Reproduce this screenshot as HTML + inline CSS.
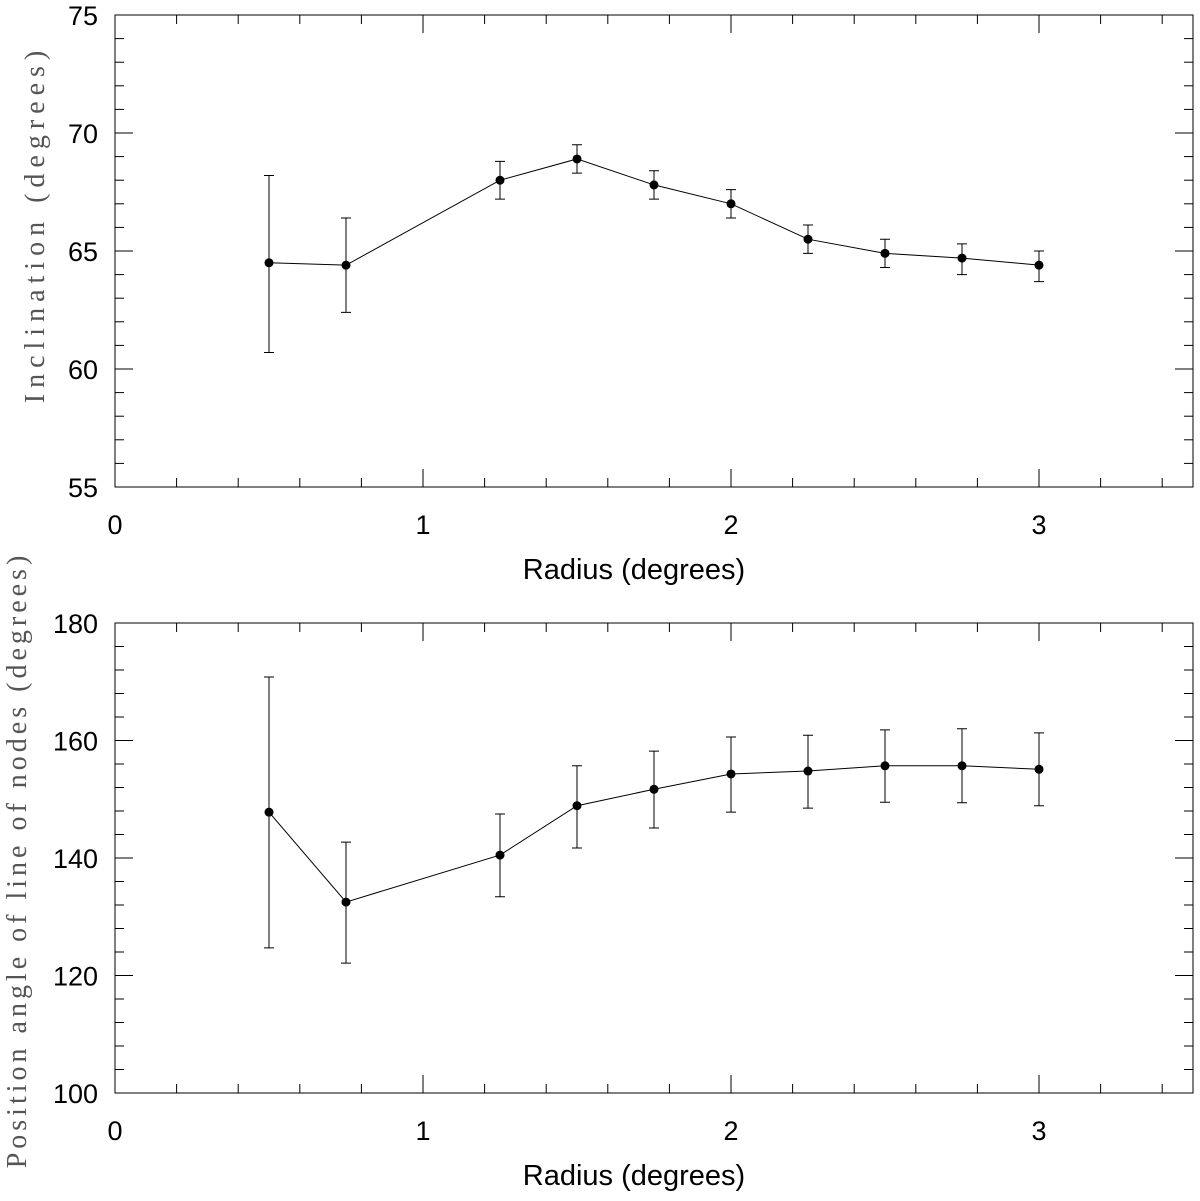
<!DOCTYPE html>
<html><head><meta charset="utf-8"><style>
body{margin:0;background:#fff;}
svg text{font-family:"Liberation Sans",sans-serif;}
</style></head><body>
<svg id="chart" width="1200" height="1196" xmlns="http://www.w3.org/2000/svg"></svg>
<script>
const radius = [0.5,0.75,1.25,1.5,1.75,2.0,2.25,2.5,2.75,3.0];
const incl = [64.5,64.4,68.0,68.9,67.8,67.0,65.5,64.9,64.7,64.4];
const inclHi = [68.2,66.4,68.8,69.5,68.4,67.6,66.1,65.5,65.3,65.0];
const inclLo = [60.7,62.4,67.2,68.3,67.2,66.4,64.9,64.3,64.0,63.7];
const pa = [147.8,132.5,140.5,148.9,151.7,154.3,154.8,155.7,155.7,155.1];
const paHi = [170.8,142.7,147.5,155.7,158.2,160.6,160.9,161.8,162.0,161.3];
const paLo = [124.7,122.1,133.4,141.7,145.1,147.8,148.5,149.5,149.4,148.9];
const xTicks = [0,1,2,3];
const yTicksTop = [55,60,65,70,75];
const yTicksBot = [100,120,140,160,180];

const svg = document.getElementById('chart');
const NS = 'http://www.w3.org/2000/svg';
function mk(tag, attrs, parent){const e=document.createElementNS(NS,tag);for(const k in attrs)e.setAttribute(k,attrs[k]);(parent||svg).appendChild(e);return e;}

function panel(name, top, bottom, yMin, yMax, yMajor, yMinor, yTicks, ys, hi, lo, yTitle, titleX, spacing, titleY){
  const L=115, R=1193;
  const xs = v => L + v*(R-L)/3.5;
  const ysc = v => bottom - (v-yMin)*(bottom-top)/(yMax-yMin);
  const g = mk('g',{});
  
  
  const frame = mk('rect',{x:L,y:top,width:R-L,height:bottom-top,fill:'none',stroke:'#000','stroke-width':1},g);
  
  
  for(let i=0;i<=17;i++){
    const v=i*0.2, x=xs(v), major=Math.abs(v-Math.round(v))<1e-6, len=major?18:9;
    mk('line',{x1:x,y1:bottom,x2:x,y2:bottom-len,stroke:'#000','stroke-width':1},g);
    mk('line',{x1:x,y1:top,x2:x,y2:top+len,stroke:'#000','stroke-width':1},g);
  }
  xTicks.forEach(v=>{
    const t=mk('text',{x:xs(v),y:bottom+47,'font-size':27,'text-anchor':'middle'},g);
    t.textContent=v;
    
    
  });
  for(let v=yMin; v<=yMax+1e-6; v+=yMinor){
    const y=ysc(v), major=Math.abs((v-yMin)/yMajor-Math.round((v-yMin)/yMajor))<1e-6, len=major?18:9;
    mk('line',{x1:L,y1:y,x2:L+len,y2:y,stroke:'#000','stroke-width':1},g);
    mk('line',{x1:R,y1:y,x2:R-len,y2:y,stroke:'#000','stroke-width':1},g);
  }
  yTicks.forEach(v=>{
    const t=mk('text',{x:98,y:ysc(v)+10,'font-size':27,'text-anchor':'end'},g);
    t.textContent=v;
    
    
  });
  const xt=mk('text',{x:634,y:bottom+92,'font-size':29,'text-anchor':'middle'},g);
  xt.textContent='Radius (degrees)';
  
  
  const cy=titleY;
  const yt=mk('text',{x:titleX,y:cy,'font-size':28,'text-anchor':'middle',fill:'#555',style:`font-family:"Liberation Serif",serif;letter-spacing:${spacing}px`,transform:`rotate(-90 ${titleX} ${cy})`},g);
  yt.textContent=yTitle;
  
  
  const pts = radius.map((r,i)=>xs(r)+','+ysc(ys[i])).join(' ');
  const pl=mk('polyline',{points:pts,fill:'none',stroke:'#000','stroke-width':1},g);
  
  
  radius.forEach((r,i)=>{
    const x=xs(r);
    const eb=mk('path',{d:`M${x},${ysc(hi[i])}V${ysc(lo[i])}M${x-5},${ysc(hi[i])}H${x+5}M${x-5},${ysc(lo[i])}H${x+5}`,stroke:'#000','stroke-width':1,fill:'none'},g);
    
    
    const c=mk('circle',{cx:x,cy:ysc(ys[i]),r:4.5,fill:'#000'},g);
    
    
  });
}
panel('inclination-panel',15,487,55,75,5,1,yTicksTop,incl,inclHi,inclLo,'Inclination (degrees)',44,6,224);
panel('position-angle-panel',623,1093,100,180,20,4,yTicksBot,pa,paHi,paLo,'Position angle of line of nodes (degrees)',26,4,860);
</script>
</body></html>
